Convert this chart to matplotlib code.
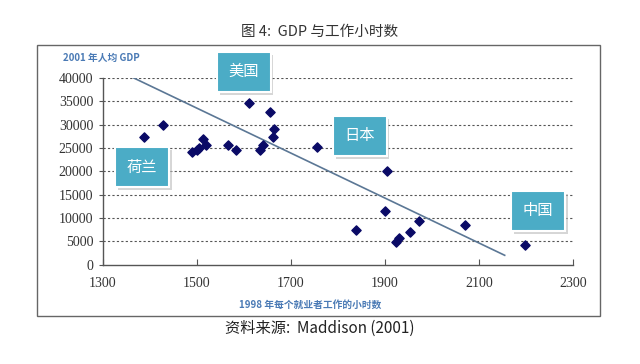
import matplotlib.pyplot as plt
from matplotlib.patches import Rectangle
import matplotlib.patheffects as pe

plt.rcParams['font.family'] = ['Noto Sans CJK SC', 'DejaVu Sans']

# 1998 hours worked per person employed vs 2001 GDP per capita
hours = [1387, 1427, 1489, 1500, 1505, 1512, 1520, 1565, 1582, 1610, 1655,
         1663, 1661, 1640, 1635, 1756, 1905, 1901, 1839, 1924, 1929, 1954,
         1973, 2071, 2198]
gdp = [27400, 29900, 24100, 24600, 25000, 27000, 25600, 25600, 24600, 34600,
       32700, 29100, 27400, 25600, 24600, 25200, 20100, 11500, 7400, 4800,
       5700, 7000, 9300, 8500, 4200]

trend_x = [1365, 2155]
trend_y = [40000, 2000]

x_ticks = [1300, 1500, 1700, 1900, 2100, 2300]
y_ticks = [0, 5000, 10000, 15000, 20000, 25000, 30000, 35000, 40000]

callouts = ["美国", "日本", "荷兰", "中国"]
callout_x = [1600, 1847, 1383, 2226]
callout_y = [41300, 27600, 20900, 11500]

fig = plt.figure(figsize=(6.4, 3.64), dpi=100)
fig.patch.set_facecolor('white')

# outer frame
fig.patches.append(Rectangle((0.058, 0.132), 0.88, 0.745, transform=fig.transFigure,
                             fill=False, edgecolor='#666666', lw=1))

ax = fig.add_axes([0.161, 0.273, 0.734, 0.513])
ax.set_xlim(1300, 2300)
ax.set_ylim(0, 40000)

for yv in y_ticks[1:]:
    ax.axhline(yv, color='#555555', lw=0.8, ls=(0, (2, 2)), zorder=0)

ax.plot(trend_x, trend_y, color='#5b7795', lw=1.2, zorder=2)
ax.scatter(hours, gdp, marker='D', s=22, color='#0a0a66', zorder=3)

ax.set_xticks(x_ticks)
ax.set_yticks(y_ticks)
ax.set_xticklabels([str(v) for v in x_ticks], family='Liberation Serif', fontsize=10, color='#333333')
ax.set_yticklabels([str(v) for v in y_ticks], family='Liberation Serif', fontsize=10, color='#333333')
ax.tick_params(axis='x', direction='in', length=4, color='#555555', pad=9)
ax.tick_params(axis='y', direction='out', length=3, color='#555555', pad=4)

for s in ['top', 'right']:
    ax.spines[s].set_visible(False)
for s in ['left', 'bottom']:
    ax.spines[s].set_color('#555555')
    ax.spines[s].set_linewidth(1)

# callout boxes with a soft shadow
for name, cx, cy in zip(callouts, callout_x, callout_y):
    t = ax.text(cx, cy, name, ha='center', va='center', fontsize=11, color='white',
                zorder=5, clip_on=False,
                bbox=dict(boxstyle='square,pad=0.75', fc='#4bacc6', ec='white', lw=1.5))
    t.get_bbox_patch().set_path_effects(
        [pe.SimplePatchShadow(offset=(2, -2), shadow_rgbFace='#bbbbbb', alpha=0.6), pe.Normal()])

fig.text(0.158, 0.84, "2001 年人均 GDP", ha='center', va='center', fontsize=7,
         color='#4a7ab5', fontweight='bold')
fig.text(0.485, 0.162, "1998 年每个就业者工作的小时数", ha='center', va='center', fontsize=7,
         color='#4a7ab5', fontweight='bold')

fig.text(0.5, 0.912, "图 4:  GDP 与工作小时数", ha='center', va='center', fontsize=10.5,
         color='#333333')
fig.text(0.5, 0.098, "资料来源:  Maddison (2001)", ha='center', va='center', fontsize=11,
         color='#222222')

fig.savefig('out.png', dpi=100, facecolor='white')
